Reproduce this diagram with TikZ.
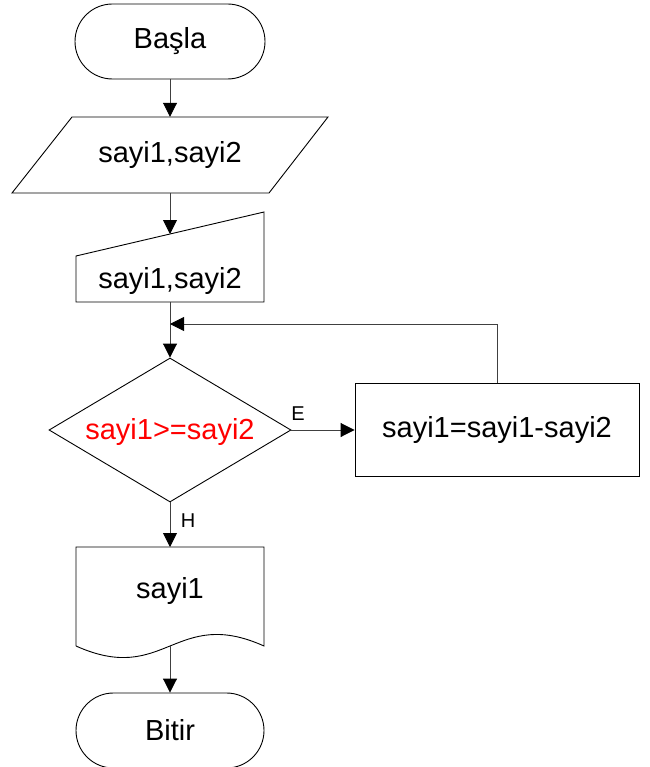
\documentclass[tikz,border=0pt]{standalone}
\usepackage{fontspec}
\setmainfont{Liberation Sans}
\usetikzlibrary{arrows.meta,shapes.misc,shapes.geometric}
\begin{document}
\begin{tikzpicture}[x=1pt,y=-1pt,
  shapeline/.style={draw=black,line width=0.9pt},
  conn/.style={draw=black!75,line width=0.9pt},
  arr/.style={conn,-{Triangle[width=14pt,length=14pt,color=black,fill=black]}},
  txt/.style={font=\fontsize{29}{33}\selectfont,inner sep=0pt},
  small/.style={font=\fontsize{20}{23}\selectfont,inner sep=0pt},
  term/.style={shapeline,txt,rounded rectangle,minimum width=190pt,minimum height=75pt}]
\useasboundingbox (0,0) rectangle (649,767);
% Start
\node[term] (start) at (170,41.5) {\raisebox{-2pt}{Başla}};
% Input parallelogram
\draw[shapeline] (72,117) -- (328,117) -- (269,193) -- (12,193) -- cycle;
\node[txt,minimum height=76pt] (inp) at (170,155) {\raisebox{-2pt}{sayi1,sayi2}};
% Manual input
\draw[shapeline] (76,256) -- (264,212) -- (264,302) -- (76,302) -- cycle;
\node[txt] (man) at (170,281) {sayi1,sayi2};
\coordinate (manin) at (170,234);
\coordinate (manout) at (170,302);
% Decision
\node[shapeline,diamond,minimum width=242pt,minimum height=144pt,inner sep=0pt,aspect=1.68] (dec) at (170,430) {};
\node[txt,text=red] (dectxt) at (170,432) {sayi1>=sayi2};
% Process
\node[shapeline,txt,rectangle,minimum width=284pt,minimum height=93pt] (proc) at (497,430) {\raisebox{-2pt}{sayi1=sayi1-sayi2}};
\coordinate (join) at (170,324);
% Document
\draw[shapeline] (76,646) -- (76,547) -- (264,547) -- (264,646)
  .. controls (175,606) and (165,686) .. (76,646);
\node[txt] (doc) at (170,591) {sayi1};
\coordinate (docin) at (170,547);
\coordinate (docout) at (170,646);
% End
\node[term,minimum width=188pt] (end) at (170,730.5) {\raisebox{-2pt}{Bitir}};
% Connectors
\draw[arr] (start.south) -- (inp.north);
\draw[arr] (inp.south) -- (manin);
\draw[arr] (manout) -- (dec.north);
\draw[arr] (proc.north) |- (join);
\draw[arr] (dec.east) -- (proc.west);
\draw[arr] (dec.south) -- (docin);
\draw[arr] (docout) -- (end.north);
% Labels
\node[small] (lblE) at (298,414) {E};
\node[small] (lblH) at (188,521) {H};
\end{tikzpicture}
\end{document}
